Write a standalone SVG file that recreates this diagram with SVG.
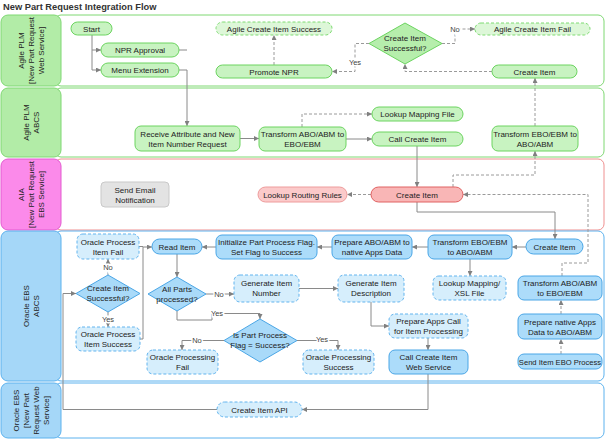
<svg xmlns="http://www.w3.org/2000/svg" width="605" height="440" viewBox="0 0 605 440">
<style>
text{font-family:"Liberation Sans",Arial,sans-serif;font-size:8px;fill:#222;text-anchor:middle}
.title{font-size:9.3px;font-weight:bold;text-anchor:start;fill:#333}
.lane-g{fill:#fff;stroke:#7fd873;stroke-width:1}
.lane-r{fill:#fff;stroke:#ef9090;stroke-width:1}
.lane-b{fill:#fff;stroke:#5cb2ee;stroke-width:1}
.lab-g{fill:#b2eca7;stroke:#7fd873}
.lab-p{fill:#fb8aea;stroke:#e35bd0}
.lab-b{fill:#a5d7f8;stroke:#5cb2ee}
.g{fill:#c8f3c1;stroke:#6cd460}
.gd{fill:#ddf7d8;stroke:#7edb72;stroke-dasharray:3,2}
.gdia{fill:#b6eeac;stroke:#6cd460}
.r{fill:#f9b6b6;stroke:#e06262}
.rl{fill:#fbcaca;stroke:#ee9c9c}
.gr{fill:#e3e3e3;stroke:#c9c9c9}
.b{fill:#acdcfa;stroke:#4aa6e6}
.bd{fill:#d6eefc;stroke:#62b4ee;stroke-dasharray:3,2}
.bdia{fill:#a9daf9;stroke:#4aa6e6}
.c{fill:none;stroke:#8a8a8a;stroke-width:1}
.cd{fill:none;stroke:#9a9a9a;stroke-width:1;stroke-dasharray:3,2}
.arr{marker-end:url(#a)}
.lbl{font-size:7.5px;paint-order:stroke;stroke:#fff;stroke-width:3px;fill:#444}
</style>
<defs>
<marker id="a" viewBox="0 0 6 6" refX="6" refY="3" markerWidth="5" markerHeight="5" orient="auto" markerUnits="userSpaceOnUse"><path d="M0,0 L6,3 L0,6 z" fill="#808080"/></marker>
</defs>
<rect width="605" height="440" fill="#fff"/>
<text class="title" x="3" y="10">New Part Request Integration Flow</text>

<g id="lanes">
<rect class="lane-g" x="55" y="15" width="549" height="71" rx="6"/>
<rect class="lab-g" x="1" y="15" width="60" height="71" rx="7"/>
<text transform="translate(31,50.5) rotate(-90)"><tspan x="0" y="-7">Agile PLM</tspan><tspan x="0" y="3">[New Part Request</tspan><tspan x="0" y="13">Web Service]</tspan></text>
<rect class="lane-g" x="55" y="88" width="549" height="69" rx="6"/>
<rect class="lab-g" x="1" y="88" width="60" height="69" rx="7"/>
<text transform="translate(31,122.5) rotate(-90)"><tspan x="0" y="-2">Agile PLM</tspan><tspan x="0" y="8">ABCS</tspan></text>
<rect class="lane-r" x="55" y="159" width="549" height="71" rx="6"/>
<rect class="lab-p" x="1" y="159" width="60" height="71" rx="7"/>
<text transform="translate(31,194.5) rotate(-90)"><tspan x="0" y="-7">AIA</tspan><tspan x="0" y="3">[New Part Request</tspan><tspan x="0" y="13">EBS Service]</tspan></text>
<rect class="lane-b" x="55" y="231" width="549" height="150" rx="6"/>
<rect class="lab-b" x="1" y="231" width="60" height="150" rx="7"/>
<text transform="translate(31,306) rotate(-90)"><tspan x="0" y="-2">Oracle EBS</tspan><tspan x="0" y="8">ABCS</tspan></text>
<rect class="lane-b" x="55" y="383" width="549" height="55" rx="6"/>
<rect class="lab-b" x="1" y="383" width="60" height="55" rx="7"/>
<text transform="translate(31,410.5) rotate(-90)"><tspan x="0" y="-12">Oracle EBS</tspan><tspan x="0" y="-2">[New Part</tspan><tspan x="0" y="8">Request Web</tspan><tspan x="0" y="18">Service]</tspan></text>
</g>

<g id="connectors">
<path class="c arr" d="M92,35 V70 H101"/>
<path class="c arr" d="M92,50 H101"/>
<path class="c" d="M179,50 H187"/>
<path class="c arr" d="M179,70 H187 V126"/>
<path class="cd arr" d="M274,65 V35"/>
<path class="cd arr" d="M369,43.5 H355 V71.5 H332"/>
<path class="cd arr" d="M442,43.5 H455 V29 H475"/>
<path class="cd arr" d="M492,71.5 H405 V64"/>
<path class="cd arr" d="M535,126 V78"/>
<path class="c arr" d="M240,138.5 H259"/>
<path class="c arr" d="M346,139 H372"/>
<path class="cd arr" d="M302,127 V114 H372"/>
<path class="c arr" d="M417,146 V187"/>
<path class="cd arr" d="M453,187 V175 H535 V151"/>
<path class="cd arr" d="M371,194.5 H347"/>
<path class="c arr" d="M417,202 V212 H555 V239"/>
<path class="cd arr" d="M562,276 V263 H588 V194.5 H463"/>
<path class="c arr" d="M526,247 H512"/>
<path class="c arr" d="M428,247 H412"/>
<path class="c arr" d="M332,247 H317"/>
<path class="c arr" d="M216,247 H202"/>
<path class="c arr" d="M470,259 V276"/>
<path class="c arr" d="M177,254 V277"/>
<path class="c arr" d="M206,294 H234"/>
<path class="c arr" d="M177,311 V320 H212 V313.5 H260 V319"/>
<path class="c arr" d="M224,340.5 H182 V350"/>
<path class="c arr" d="M297,340.5 H338 V350"/>
<path class="c arr" d="M299,288.5 H338"/>
<path class="c arr" d="M371,302 V326 H389"/>
<path class="c arr" d="M428,338 V350"/>
<path class="c arr" d="M428,374 V409.5 H302"/>
<path class="c arr" d="M217,409.5 H63 V293.5 H76"/>
<path class="c arr" d="M108,275 V259"/>
<path class="c arr" d="M108,312 V327"/>
<path class="c" d="M139,246.5 H143"/>
<path class="c arr" d="M140,339 H143 V247 H152"/>
<path class="cd arr" d="M561,354 V339"/>
<path class="cd arr" d="M561,314 V300"/>
<text class="lbl" x="355" y="65">Yes</text>
<text class="lbl" x="455" y="32">No</text>
<text class="lbl" x="219" y="296.5">No</text>
<text class="lbl" x="217" y="316">Yes</text>
<text class="lbl" x="197" y="343">No</text>
<text class="lbl" x="322" y="342">Yes</text>
<text class="lbl" x="108" y="269.5">No</text>
<text class="lbl" x="108" y="322">Yes</text>
</g>

<g id="start"><rect class="g" x="71" y="22" width="41" height="13" rx="6.5"/><text x="91.5" y="31.5">Start</text></g>
<g id="npr-approval"><rect class="g" x="101" y="43" width="78" height="14" rx="7"/><text x="140" y="53">NPR Approval</text></g>
<g id="menu-extension"><rect class="g" x="101" y="63" width="78" height="14" rx="7"/><text x="140" y="73">Menu Extension</text></g>
<g id="agile-success"><rect class="gd" x="216" y="22" width="116" height="13" rx="6.5"/><text x="274" y="31.5">Agile Create Item Success</text></g>
<g id="promote-npr"><rect class="g" x="216" y="65" width="116" height="13" rx="6.5"/><text x="274" y="74.5">Promote NPR</text></g>
<g id="agile-decision"><polygon class="gdia" points="405,23 442,43.5 405,64 369,43.5"/><text x="405" y="41">Create Item</text><text x="405" y="51">Successful?</text></g>
<g id="agile-fail"><rect class="gd" x="475" y="23" width="115" height="12" rx="6"/><text x="532.5" y="32">Agile Create Item Fail</text></g>
<g id="agile-create-item"><rect class="g" x="492" y="65" width="85" height="13" rx="6.5"/><text x="534.5" y="74.5">Create Item</text></g>

<g id="receive-attr"><rect class="g" x="135" y="126" width="105" height="25" rx="6"/><text x="187.5" y="136.5">Receive Attribute and New</text><text x="187.5" y="146.5">Item Number Request</text></g>
<g id="abcs-transform1"><rect class="g" x="259" y="127" width="87" height="24" rx="6"/><text x="302.5" y="137">Transform ABO/ABM to</text><text x="302.5" y="147">EBO/EBM</text></g>
<g id="lookup-mapping"><rect class="g" x="372" y="107" width="91" height="14" rx="7"/><text x="417.5" y="117">Lookup Mapping File</text></g>
<g id="call-create-item"><rect class="g" x="372" y="132" width="91" height="14" rx="7"/><text x="417.5" y="142">Call Create Item</text></g>
<g id="abcs-transform2"><rect class="g" x="492" y="126" width="86" height="25" rx="6"/><text x="535" y="136.5">Transform EBO/EBM to</text><text x="535" y="146.5">ABO/ABM</text></g>

<g id="send-email"><rect class="gr" x="101" y="182" width="68" height="25" rx="4"/><text x="135" y="192.5">Send Email</text><text x="135" y="202.5">Notification</text></g>
<g id="lookup-routing"><rect class="rl" x="258" y="187" width="89" height="15" rx="7.5"/><text x="302.5" y="197.5">Lookup Routing Rules</text></g>
<g id="aia-create-item"><rect class="r" x="371" y="187" width="92" height="15" rx="7.5"/><text x="417" y="197.5">Create Item</text></g>

<g id="ebs-create-item"><rect class="b" x="526" y="239" width="57" height="15" rx="7.5"/><text x="554.5" y="249.5">Create Item</text></g>
<g id="ebs-transform1"><rect class="b" x="428" y="235" width="84" height="24" rx="6"/><text x="470" y="245">Transform EBO/EBM</text><text x="470" y="255">to ABO/ABM</text></g>
<g id="prepare-native"><rect class="b" x="332" y="235" width="80" height="24" rx="6"/><text x="372" y="245">Prepare ABO/ABM to</text><text x="372" y="255">native Apps Data</text></g>
<g id="initialize"><rect class="b" x="216" y="235" width="101" height="24" rx="6"/><text x="266.5" y="245">Initialize Part Process Flag.</text><text x="266.5" y="255">Set Flag to Success</text></g>
<g id="read-item"><rect class="b" x="152" y="239" width="50" height="15" rx="7.5"/><text x="177" y="249.5">Read Item</text></g>
<g id="process-fail"><rect class="bd" x="77" y="234" width="62" height="25" rx="6"/><text x="108" y="244.5">Oracle Process</text><text x="108" y="254.5">Item Fail</text></g>
<g id="ebs-decision"><polygon class="bdia" points="108,275 140,293.5 108,312 76,293.5"/><text x="108" y="291">Create Item</text><text x="108" y="301">Successful?</text></g>
<g id="process-success"><rect class="bd" x="76" y="327" width="64" height="24" rx="6"/><text x="108" y="337">Oracle Process</text><text x="108" y="347">Item Success</text></g>
<g id="all-parts"><polygon class="bdia" points="177,277 206,294 177,311 148,294"/><text x="177" y="292">All Parts</text><text x="177" y="302">processed?</text></g>
<g id="gen-number"><rect class="bd" x="234" y="275" width="65" height="27" rx="6"/><text x="266.5" y="286">Generate Item</text><text x="266.5" y="296">Number</text></g>
<g id="gen-description"><rect class="bd" x="338" y="275" width="66" height="27" rx="6"/><text x="371" y="286">Generate Item</text><text x="371" y="296">Description</text></g>
<g id="lookup-xsl"><rect class="bd" x="433" y="276" width="73" height="24" rx="6"/><text x="469.5" y="286">Lookup Mapping/</text><text x="469.5" y="296">XSL File</text></g>
<g id="ebs-transform2"><rect class="b" x="518" y="276" width="84" height="24" rx="6"/><text x="560" y="286">Transform ABO/ABM</text><text x="560" y="296">to EBO/EBM</text></g>
<g id="prepare-abo"><rect class="b" x="518" y="314" width="84" height="25" rx="6"/><text x="560" y="324.5">Prepare native Apps</text><text x="560" y="334.5">Data to ABO/ABM</text></g>
<g id="send-item-ebo"><rect class="b" x="518" y="354" width="84" height="15" rx="6"/><text x="560" y="364.5" style="font-size:7.6px">Send Item EBO Process</text></g>
<g id="flag-decision"><polygon class="bdia" points="260,319 297,340.5 260,362 224,340.5"/><text x="260" y="338">Is Part Process</text><text x="260" y="348">Flag = Success?</text></g>
<g id="processing-fail"><rect class="bd" x="147" y="350" width="71" height="24" rx="6"/><text x="182.5" y="360">Oracle Processing</text><text x="182.5" y="370">Fail</text></g>
<g id="processing-success"><rect class="bd" x="303" y="350" width="71" height="24" rx="6"/><text x="338.5" y="360">Oracle Processing</text><text x="338.5" y="370">Success</text></g>
<g id="prepare-apps-call"><rect class="bd" x="389" y="314" width="79" height="24" rx="6"/><text x="428.5" y="324">Prepare Apps Call</text><text x="428.5" y="334">for Item Processing</text></g>
<g id="call-ws"><rect class="b" x="389" y="350" width="79" height="24" rx="6"/><text x="428.5" y="360">Call Create Item</text><text x="428.5" y="370">Web Service</text></g>

<g id="create-item-api"><rect class="bd" x="217" y="402" width="85" height="15" rx="7.5"/><text x="259.5" y="412.5">Create Item API</text></g>
</svg>
